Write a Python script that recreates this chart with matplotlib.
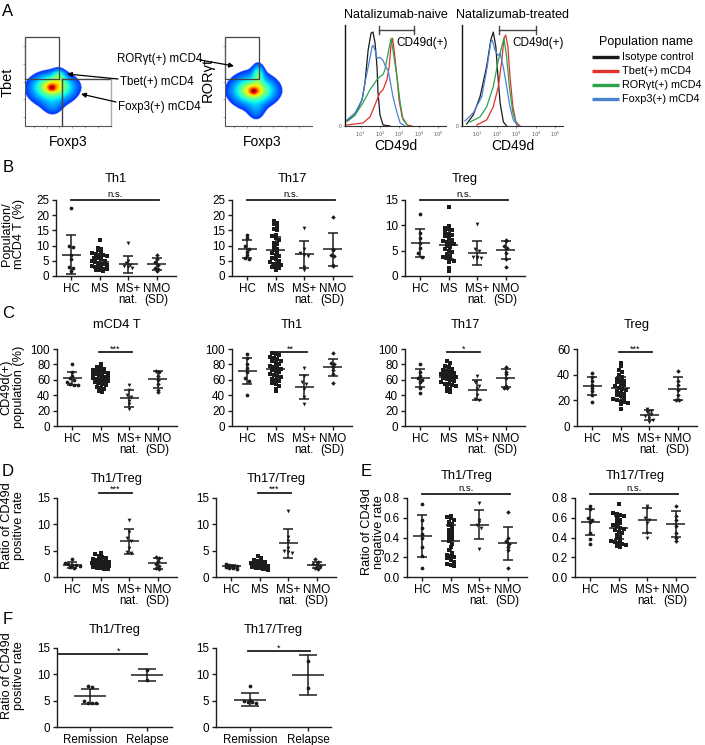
import numpy as np
import matplotlib
matplotlib.use('Agg')
import matplotlib.pyplot as plt

plt.rcParams['font.family'] = ['Liberation Sans', 'DejaVu Sans']

# ======================= DATA =======================
groups = ['HC', 'MS', 'MS+\nnat.', 'NMO\n(SD)']
f_groups = ['Remission', 'Relapse']

# ---- Panel A: CD49d histograms (x = log10 CD49d, y = % of mode) ----
naive_iso_x = [0.30, 0.72, 1.08, 1.23, 1.39, 1.54, 1.64, 1.75, 1.85, 1.90, 2.00, 2.16, 2.52]
naive_iso_y = [5, 11, 26, 43, 75, 92, 93, 82, 58, 33, 11, 1, 0]
naive_tbet_x = [0.30, 1.13, 1.49, 1.64, 1.85, 2.00, 2.16, 2.36, 2.47, 2.57, 2.65, 2.73, 2.88, 2.98, 3.14, 3.40, 3.65]
naive_tbet_y = [1, 3, 9, 16, 26, 33, 36, 46, 58, 80, 87, 75, 48, 26, 9, 1, 0]
naive_ror_x = [0.35, 0.72, 1.13, 1.49, 1.85, 2.00, 2.16, 2.26, 2.42, 2.57, 2.67, 2.88, 3.04, 3.19, 3.45]
naive_ror_y = [5, 11, 23, 36, 46, 49, 51, 56, 72, 87, 75, 48, 23, 6, 0]
naive_foxp3_x = [0.30, 0.72, 1.08, 1.23, 1.39, 1.59, 1.64, 1.75, 1.85, 2.00, 2.16, 2.26, 2.42, 2.52, 2.67, 2.88, 3.04, 3.29]
naive_foxp3_y = [6, 13, 26, 43, 58, 78, 80, 75, 67, 68, 65, 60, 55, 45, 29, 13, 3, 0]

treat_iso_x = [0.44, 0.78, 1.13, 1.47, 1.68, 1.81, 1.94, 2.04, 2.16, 2.33, 2.50]
treat_iso_y = [2, 11, 29, 59, 85, 93, 79, 52, 23, 4, 0]
treat_tbet_x = [0.96, 1.47, 1.81, 2.07, 2.25, 2.36, 2.45, 2.56, 2.67, 2.82, 2.98, 3.19]
treat_tbet_y = [1, 6, 19, 39, 65, 87, 90, 79, 49, 19, 4, 0]
treat_ror_x = [0.61, 1.13, 1.47, 1.81, 2.07, 2.25, 2.36, 2.50, 2.64, 2.82, 3.02]
treat_ror_y = [4, 9, 19, 39, 65, 79, 87, 68, 39, 13, 1]
treat_foxp3_x = [0.35, 0.78, 1.22, 1.50, 1.68, 1.76, 1.90, 2.04, 2.16, 2.33, 2.50, 2.67, 2.84, 3.10]
treat_foxp3_y = [5, 13, 29, 59, 83, 85, 75, 70, 72, 58, 39, 19, 6, 0]

legend_names = ['Isotype control', 'Tbet(+) mCD4', 'RORγt(+) mCD4', 'Foxp3(+) mCD4']

# density-plot shapes (axis units): centre u, centre v, spread u, spread v, weight
tbet_blob = [(0.31, 0.43, 0.030, 0.025, 0.55), (0.32, 0.44, 0.08, 0.05, 0.42),
             (0.34, 0.44, 0.15, 0.085, 0.25), (0.39, 0.55, 0.045, 0.05, 0.22),
             (0.30, 0.40, 0.17, 0.13, 0.12), (0.32, 0.22, 0.07, 0.07, 0.06)]
ror_blob = [(0.33, 0.39, 0.030, 0.025, 0.55), (0.33, 0.40, 0.08, 0.05, 0.42),
            (0.34, 0.40, 0.15, 0.085, 0.25), (0.38, 0.57, 0.04, 0.07, 0.24),
            (0.31, 0.40, 0.17, 0.15, 0.12), (0.36, 0.18, 0.06, 0.08, 0.07)]

# ---- Panel B ----
b_th1_hc = [22.3, 10.0, 9.5, 6.8, 5.5, 2.8, 2.5, 1.8]
b_th1_ms = [12.0, 9.2, 9.0, 8.5, 8.0, 7.5, 7.2, 7.0, 6.8, 6.5, 6.0, 5.8, 5.5, 5.0, 4.8,
            4.5, 4.2, 4.0, 3.8, 3.5, 3.3, 3.0, 2.8, 2.6, 2.4, 2.2, 2.0, 2.0, 1.8]
b_th1_nat = [11.0, 5.0, 4.2, 3.6, 3.2, 3.0, 2.6]
b_th1_nmo = [7.0, 5.6, 4.6, 3.6, 2.6, 2.2, 1.6]
b_th1_mean = [7.0, 4.6, 3.9, 4.0]
b_th1_sd = [6.5, 2.6, 2.8, 1.9]

b_th17_hc = [13.5, 12.5, 10.0, 9.0, 8.0, 7.0, 6.0, 5.5]
b_th17_ms = [18.2, 17.5, 17.0, 16.0, 15.5, 15.0, 13.5, 13.0, 12.5, 12.0, 11.0, 10.5, 10.0, 9.0, 8.5,
             8.0, 7.5, 7.0, 6.5, 6.0, 5.5, 5.0, 4.5, 4.0, 4.0, 3.5, 3.0, 3.0, 2.5, 2.0]
b_th17_nat = [15.8, 9.0, 7.5, 7.0, 6.5, 3.0, 2.0]
b_th17_nmo = [19.5, 9.0, 8.5, 7.0, 6.5, 3.5, 3.3]
b_th17_mean = [8.9, 8.4, 7.1, 8.8]
b_th17_sd = [3.0, 4.4, 4.5, 5.4]

b_treg_hc = [12.3, 8.5, 7.5, 6.5, 5.5, 4.5, 3.8]
b_treg_ms = [13.6, 9.8, 9.5, 9.3, 9.0, 8.7, 8.3, 8.0, 7.8, 7.5, 7.2, 7.0, 6.8, 6.5, 6.3,
             6.0, 5.7, 5.3, 5.0, 4.7, 4.3, 4.0, 3.7, 3.5, 3.3, 3.0, 2.8, 1.5, 1.0]
b_treg_nat = [10.2, 5.3, 5.0, 3.8, 3.7, 3.5, 3.5]
b_treg_nmo = [7.2, 7.0, 6.0, 5.5, 4.5, 3.3, 1.8]
b_treg_mean = [6.5, 6.2, 4.6, 5.1]
b_treg_sd = [2.8, 2.9, 2.35, 1.8]

# ---- Panel C ----
c_cd4_hc = [80, 70, 65, 62, 60, 57, 55, 53, 53]
c_cd4_ms = [80, 77, 75, 74, 73, 72, 71, 70, 69, 68, 67, 66, 65, 64, 63, 62, 61, 60, 59, 58,
            57, 56, 55, 53, 51, 50, 48, 46, 44]
c_cd4_nat = [53, 47, 40, 38, 33, 28, 22]
c_cd4_nmo = [72, 70, 65, 60, 55, 47, 44]
c_cd4_mean = [62, 62, 36, 60.5]
c_cd4_sd = [8.5, 8, 11, 11]

c_th1_hc = [93, 88, 80, 75, 70, 62, 58, 40]
c_th1_ms = [95, 93, 92, 90, 88, 87, 85, 84, 82, 80, 78, 77, 75, 74, 73, 72, 70, 68, 66, 65,
            63, 61, 60, 58, 56, 55, 52, 48, 46]
c_th1_nat = [75, 65, 57, 55, 48, 38, 28]
c_th1_nmo = [95, 82, 80, 77, 73, 68, 56]
c_th1_mean = [71, 73.5, 51, 76]
c_th1_sd = [17, 12.5, 15.5, 11.5]

c_th17_hc = [80, 70, 65, 62, 60, 57, 50, 43]
c_th17_ms = [84, 82, 78, 76, 74, 73, 72, 70, 69, 68, 67, 66, 65, 64, 63, 62, 61, 60, 58, 57,
             55, 54, 53, 52, 50, 48, 46, 44]
c_th17_nat = [65, 57, 52, 48, 40, 35, 34]
c_th17_nmo = [77, 70, 67, 62, 52, 50, 50]
c_th17_mean = [62, 64, 47, 62]
c_th17_sd = [11.5, 11, 13, 11.5]

c_treg_hc = [41, 38, 35, 32, 30, 27, 24, 19]
c_treg_ms = [49, 47, 44, 42, 40, 38, 37, 36, 35, 34, 33, 32, 31, 30, 29, 28, 27, 26, 25, 24,
             23, 22, 21, 20, 19, 19, 18, 17, 13]
c_treg_nat = [13, 12, 11, 9, 8, 6, 5, 3]
c_treg_nmo = [43, 35, 32, 28, 24, 20, 20]
c_treg_mean = [31.5, 29.5, 8.5, 29]
c_treg_sd = [7, 9, 4, 9]

# ---- Panel D ----
d_th1_hc = [3.4, 2.7, 2.5, 2.3, 2.2, 2.0, 1.9, 1.8]
d_th1_ms = [4.6, 4.3, 4.0, 3.8, 3.6, 3.4, 3.3, 3.2, 3.0, 2.9, 2.8, 2.8, 2.7, 2.6, 2.6, 2.5,
            2.4, 2.4, 2.3, 2.2, 2.2, 2.1, 2.0, 2.0, 1.9, 1.8, 1.7, 1.6, 1.5]
d_th1_nat = [10.8, 8.5, 7.5, 6.8, 5.5, 4.8, 4.5]
d_th1_nmo = [3.8, 3.6, 3.0, 2.5, 2.0, 1.8, 1.5]
d_th1_mean = [2.3, 2.7, 6.8, 2.6]
d_th1_sd = [0.5, 0.7, 2.4, 1.1]

d_th17_hc = [2.4, 2.2, 2.1, 2.0, 1.9, 1.8, 1.7, 1.6]
d_th17_ms = [4.0, 3.6, 3.3, 3.0, 2.9, 2.8, 2.7, 2.6, 2.5, 2.5, 2.4, 2.4, 2.3, 2.3, 2.2, 2.2,
             2.1, 2.1, 2.0, 2.0, 1.9, 1.9, 1.8, 1.8, 1.7, 1.6, 1.5, 1.4]
d_th17_nat = [12.6, 7.6, 6.8, 5.5, 5.0, 4.7, 4.5]
d_th17_nmo = [3.5, 2.8, 2.5, 2.2, 2.0, 1.8, 1.6]
d_th17_mean = [2.0, 2.3, 6.4, 2.3]
d_th17_sd = [0.3, 0.5, 2.8, 0.6]

# ---- Panel E ----
e_th1_hc = [0.74, 0.58, 0.50, 0.44, 0.40, 0.30, 0.21, 0.09]
e_th1_ms = [0.62, 0.61, 0.60, 0.58, 0.56, 0.54, 0.53, 0.50, 0.48, 0.46, 0.44, 0.42, 0.40, 0.38,
            0.36, 0.33, 0.30, 0.27, 0.24, 0.22, 0.21, 0.20, 0.19, 0.17, 0.15, 0.13, 0.12, 0.11]
e_th1_nat = [0.75, 0.58, 0.56, 0.53, 0.50, 0.28]
e_th1_nmo = [0.66, 0.40, 0.36, 0.33, 0.30, 0.27, 0.09]
e_th1_mean = [0.415, 0.365, 0.53, 0.34]
e_th1_sd = [0.215, 0.165, 0.15, 0.17]

e_th17_hc = [0.72, 0.69, 0.60, 0.58, 0.56, 0.45, 0.38, 0.33]
e_th17_ms = [0.74, 0.65, 0.64, 0.63, 0.62, 0.60, 0.58, 0.56, 0.55, 0.53, 0.52, 0.50, 0.49, 0.48,
             0.46, 0.45, 0.43, 0.41, 0.39, 0.37, 0.36, 0.35, 0.34, 0.33, 0.32, 0.31, 0.30]
e_th17_nat = [0.72, 0.70, 0.60, 0.58, 0.55, 0.45, 0.40]
e_th17_nmo = [0.72, 0.62, 0.58, 0.52, 0.45, 0.40, 0.36]
e_th17_mean = [0.56, 0.50, 0.575, 0.54]
e_th17_sd = [0.13, 0.12, 0.125, 0.13]

# ---- Panel F ----
f_th1_rem = [7.7, 7.6, 5.0, 4.6, 4.5, 4.5]
f_th1_rel = [10.8, 9.0]
f_th1_mean = [5.8, 9.9]
f_th1_sd = [1.45, 1.15]

f_th17_rem = [7.7, 5.2, 5.0, 4.8, 4.7, 4.5]
f_th17_rel = [12.6, 7.4]
f_th17_mean = [5.2, 9.9]
f_th17_sd = [1.25, 3.75]

# ======================= FIGURE =======================
W, H = 705, 745
fig = plt.figure(figsize=(W / 100, H / 100), dpi=100)
INK = '#1c1c1c'

ov = fig.add_axes([0, 0, 1, 1])
ov.set_xlim(0, W)
ov.set_ylim(H, 0)
ov.axis('off')
ov.set_zorder(10)
ov.patch.set_visible(False)


def ax_px(x0, y0, x1, y1):
    return fig.add_axes([x0 / W, 1 - y1 / H, (x1 - x0) / W, (y1 - y0) / H])


# ---------------- Panel A ----------------
def blob(U, V, comps):
    Z = np.zeros_like(U)
    for cu, cv, su, sv, a in comps:
        Z += a * np.exp(-((U - cu) ** 2 / (2 * su ** 2) + (V - cv) ** 2 / (2 * sv ** 2)))
    return Z


def density_panel(box, comps, gates, light_edges):
    ax = ax_px(*box)
    g = np.linspace(0, 1, 260)
    U, V = np.meshgrid(g, g)
    Z = blob(U, V, comps)
    c = Z / Z.max()
    val = 0.03 + 0.97 * np.clip(c, 0, 1) ** 0.55
    img = plt.cm.jet(val)
    img[..., 3] = np.where(c > 0.03, 1.0, 0.0)
    ax.imshow(img, extent=[0, 1, 0, 1], origin='lower', aspect='auto', interpolation='bilinear')
    ax.set_xlim(0, 1)
    ax.set_ylim(0, 1)
    for (ga, gb, gc, gd) in gates:
        ax.plot([ga, gb, gb, ga, ga], [gc, gc, gd, gd, gc], color='#444', lw=0.9, clip_on=False)
    for seg in light_edges:
        ax.plot(seg[0], seg[1], color=seg[2], lw=1.0, clip_on=False)
    for s in ['top', 'right']:
        ax.spines[s].set_visible(False)
    for s in ['left', 'bottom']:
        ax.spines[s].set_color('#555')
        ax.spines[s].set_linewidth(0.8)
    ax.set_xticks([0.1, 0.25, 0.4, 0.55, 0.7, 0.85])
    ax.set_yticks([0.1, 0.3, 0.5, 0.7, 0.9])
    ax.tick_params(length=1.5, width=0.6, color='#999', labelbottom=False, labelleft=False)
    return ax


density_panel((25, 37, 111, 126), tbet_blob,
              [(0, 0.395, 0.528, 1.0)],
              [([0.43, 0.43], [0, 0.528], '#444'), ([0.43, 1.0], [0.528, 0.528], '#444'),
               ([1.0, 1.0], [0, 0.528], '#aaa')])
density_panel((225, 37, 312, 126), ror_blob, [(0, 0.39, 0.528, 1.0)], [])

ov.text(8, 12, 'A', fontsize=12, ha='center', va='center')
ov.text(8, 82, 'Tbet', fontsize=10.5, rotation=90, ha='center', va='center')
ov.text(68, 142, 'Foxp3', fontsize=10, ha='center', va='center')
ov.text(208, 80, 'RORγt', fontsize=10.5, rotation=90, ha='center', va='center')
ov.text(262, 142, 'Foxp3', fontsize=10, ha='center', va='center')

ov.text(117, 59, 'RORγt(+) mCD4', fontsize=8.3, ha='left', va='center')
ov.text(120, 82, 'Tbet(+) mCD4', fontsize=8.3, ha='left', va='center')
ov.text(118, 107, 'Foxp3(+) mCD4', fontsize=8.3, ha='left', va='center')
arrow_kw = dict(arrowstyle='-|>', lw=0.9, color='k', mutation_scale=7, shrinkA=0, shrinkB=0)
ov.annotate('', xy=(234, 66), xytext=(200, 60), arrowprops=arrow_kw)
ov.annotate('', xy=(67, 74), xytext=(118, 79), arrowprops=arrow_kw)
ov.annotate('', xy=(81, 94), xytext=(116, 102), arrowprops=arrow_kw)

hist_cols = ['#1a1a1a', '#e0312b', '#2ea24b', '#4a82d2']


def hist_panel(box, title, curves):
    ax = ax_px(*box)
    for (xs, ys), col in zip(curves, hist_cols):
        ax.plot(xs, ys, color=col, lw=0.9)
    ax.set_xlim(0.2, 5.4)
    ax.set_ylim(0, 100)
    for s in ['top', 'right']:
        ax.spines[s].set_visible(False)
    ax.spines['left'].set_color('#111')
    ax.spines['left'].set_linewidth(1.0)
    ax.spines['bottom'].set_color('#333')
    ax.spines['bottom'].set_linewidth(0.8)
    ax.set_xticks([1, 2, 3, 4, 5])
    ax.set_xticklabels([r'$10^{%d}$' % k for k in range(1, 6)])
    ax.set_yticks([0])
    ax.set_yticklabels(['0'])
    ax.tick_params(length=1.5, width=0.5, color='#666', labelsize=3.5, labelcolor='#555', pad=1)
    x0, y0, x1, y1 = box
    ov.text((x0 + x1) / 2, 15, title, fontsize=9, ha='center', va='center')
    ov.text((x0 + x1) / 2, 146, 'CD49d', fontsize=10, ha='center', va='center')
    return ax


hist_panel((345, 25, 446, 126), 'Natalizumab-naive',
           [(naive_iso_x, naive_iso_y), (naive_tbet_x, naive_tbet_y),
            (naive_ror_x, naive_ror_y), (naive_foxp3_x, naive_foxp3_y)])
hist_panel((462, 25, 563, 126), 'Natalizumab-treated',
           [(treat_iso_x, treat_iso_y), (treat_tbet_x, treat_tbet_y),
            (treat_ror_x, treat_ror_y), (treat_foxp3_x, treat_foxp3_y)])


def bracket(xa, xb, y, label, tx):
    ov.plot([xa, xb], [y, y], color='#444', lw=1.0)
    ov.plot([xa, xa], [y - 4, y + 4], color='#444', lw=1.0)
    ov.plot([xb, xb], [y - 4, y + 4], color='#444', lw=1.0)
    ov.text(tx, 43, label, fontsize=8.5, ha='center', va='center')


bracket(379, 414, 30, 'CD49d(+)', 422)
bracket(499, 536, 30, 'CD49d(+)', 538)

ov.text(646, 42, 'Population name', fontsize=9, ha='center', va='center')
for k, (name, col) in enumerate(zip(legend_names, hist_cols)):
    yy = 57 + 14 * k
    ov.plot([592, 619], [yy, yy], color=col, lw=2.4, solid_capstyle='butt')
    ov.text(622, yy, name, fontsize=7.8, ha='left', va='center')


# ---------------- Dot-plot panels ----------------
def swarm(vals, bin_h, step):
    v = np.asarray(vals, float)
    off = np.zeros(len(v))
    bins = np.round(v / bin_h).astype(int)
    for b in np.unique(bins):
        idx = np.where(bins == b)[0]
        n = len(idx)
        st = step if n <= 5 else step * 5 / n
        off[idx] = (np.arange(n) - (n - 1) / 2.0) * st
    return off


MARKS = ['o', 's', 'v', 'D']


def dot_panel(box, title, title_y, data, means, sds, ymax, yticks, labels,
              sig_text, sig_x, sig_y, xlim=(-0.53, 3.68), ytfmt='%g',
              mean_hw=0.33, cap=3.6, step=0.13, star_x=None, marks=MARKS):
    x0, y0, x1, y1 = box
    ax = ax_px(x0, y0, x1, y1)
    ax.set_xlim(*xlim)
    ax.set_ylim(0, ymax)
    bin_h = ymax / (y1 - y0) * 4.2
    for i, vals in enumerate(data):
        off = swarm(vals, bin_h, step)
        ms = 2.3 if marks[i] == 'D' else 2.7
        ax.plot(i + off, vals, ls='none', marker=marks[i], ms=ms, color=INK,
                mew=0, clip_on=False, zorder=3)
        ax.plot([i - mean_hw, i + mean_hw], [means[i]] * 2, color=INK, lw=1.1,
                zorder=4, solid_capstyle='butt')
        ax.errorbar([i], [means[i]], yerr=[sds[i]], fmt='none', ecolor=INK,
                    elinewidth=1.1, capsize=cap, capthick=1.1, zorder=4)
    for s in ['top', 'right']:
        ax.spines[s].set_visible(False)
    for s in ['left', 'bottom']:
        ax.spines[s].set_color(INK)
        ax.spines[s].set_linewidth(1.0)
    ax.set_yticks(yticks)
    ax.set_yticklabels([ytfmt % t for t in yticks])
    ax.set_xticks(range(len(labels)))
    ax.set_xticklabels(labels, linespacing=0.95)
    ax.tick_params(direction='out', length=3, width=1, color=INK, labelsize=8.4, pad=2)
    ov.text((x0 + x1) / 2, title_y, title, fontsize=9.3, ha='center', va='center')
    ax.plot(sig_x, [sig_y, sig_y], color=INK, lw=1.3, clip_on=False)
    sx = (sig_x[0] + sig_x[1]) / 2 if star_x is None else star_x
    if sig_text == 'n.s.':
        ax.annotate(sig_text, xy=(sx, sig_y), xytext=(0, 0.6), textcoords='offset points',
                    ha='center', va='bottom', fontsize=6.8, annotation_clip=False)
    else:
        ax.annotate(sig_text, xy=(sx, sig_y), xytext=(0, 0.6), textcoords='offset points',
                    ha='center', va='baseline', fontsize=6.5, annotation_clip=False)
    return ax


def ylab(x, y, text):
    ov.text(x, y, text, fontsize=9.2, rotation=90, ha='center', va='center',
            multialignment='center', linespacing=1.1)


# ---- B ----
ov.text(8, 167, 'B', fontsize=12, ha='center', va='center')
ylab(13, 234, 'Population/\nmCD4 T (%)')
NS = (0, 3.1)
dot_panel((56, 200, 176, 276), 'Th1', 179, [b_th1_hc, b_th1_ms, b_th1_nat, b_th1_nmo],
          b_th1_mean, b_th1_sd, 25, [0, 5, 10, 15, 20, 25], groups, 'n.s.', NS, 25)
dot_panel((232, 200, 352, 276), 'Th17', 179, [b_th17_hc, b_th17_ms, b_th17_nat, b_th17_nmo],
          b_th17_mean, b_th17_sd, 25, [0, 5, 10, 15, 20, 25], groups, 'n.s.', NS, 25)
dot_panel((405, 200, 525, 276), 'Treg', 179, [b_treg_hc, b_treg_ms, b_treg_nat, b_treg_nmo],
          b_treg_mean, b_treg_sd, 15, [0, 5, 10, 15], groups, 'n.s.', NS, 15)

# ---- C ----
ov.text(8, 313, 'C', fontsize=12, ha='center', va='center')
ylab(13, 387, 'CD49d(+)\npopulation (%)')
MN = (0.95, 2.1)
dot_panel((57, 349, 177, 426), 'mCD4 T', 325, [c_cd4_hc, c_cd4_ms, c_cd4_nat, c_cd4_nmo],
          c_cd4_mean, c_cd4_sd, 100, [0, 20, 40, 60, 80, 100], groups, '***', MN, 96)
dot_panel((232, 349, 352, 426), 'Th1', 325, [c_th1_hc, c_th1_ms, c_th1_nat, c_th1_nmo],
          c_th1_mean, c_th1_sd, 100, [0, 20, 40, 60, 80, 100], groups, '**', MN, 96)
dot_panel((405, 349, 525, 426), 'Th17', 325, [c_th17_hc, c_th17_ms, c_th17_nat, c_th17_nmo],
          c_th17_mean, c_th17_sd, 100, [0, 20, 40, 60, 80, 100], groups, '*', MN, 96)
dot_panel((577, 349, 697, 426), 'Treg', 325, [c_treg_hc, c_treg_ms, c_treg_nat, c_treg_nmo],
          c_treg_mean, c_treg_sd, 60, [0, 20, 40, 60], groups, '***', MN, 57.5)

# ---- D ----
ov.text(8, 472, 'D', fontsize=12, ha='center', va='center')
ylab(13, 526, 'Ratio of CD49d\npositive rate')
dot_panel((57, 498, 177, 577), 'Th1/Treg', 479, [d_th1_hc, d_th1_ms, d_th1_nat, d_th1_nmo],
          d_th1_mean, d_th1_sd, 15, [0, 5, 10, 15], groups, '***', MN, 16.0)
dot_panel((216, 498, 336, 577), 'Th17/Treg', 479, [d_th17_hc, d_th17_ms, d_th17_nat, d_th17_nmo],
          d_th17_mean, d_th17_sd, 15, [0, 5, 10, 15], groups, '***', MN, 16.0)

# ---- E ----
ov.text(366, 472, 'E', fontsize=12, ha='center', va='center')
ylab(373, 532, 'Ratio of CD49d\nnegative rate')
ET = [0, 0.2, 0.4, 0.6, 0.8]
dot_panel((407, 498, 527, 577), 'Th1/Treg', 476, [e_th1_hc, e_th1_ms, e_th1_nat, e_th1_nmo],
          e_th1_mean, e_th1_sd, 0.8, ET, groups, 'n.s.', NS, 0.84, ytfmt='%.1f')
dot_panel((575, 498, 695, 577), 'Th17/Treg', 476, [e_th17_hc, e_th17_ms, e_th17_nat, e_th17_nmo],
          e_th17_mean, e_th17_sd, 0.8, ET, groups, 'n.s.', NS, 0.84, ytfmt='%.1f')

# ---- F ----
ov.text(8, 620, 'F', fontsize=12, ha='center', va='center')
ylab(13, 676, 'Ratio of CD49d\npositive rate')
dot_panel((57, 648, 172, 727), 'Th1/Treg', 630, [f_th1_rem, f_th1_rel], f_th1_mean, f_th1_sd,
          15, [0, 5, 10, 15], f_groups, '*', (-0.55, 1.0), 13.8, xlim=(-0.58, 1.44),
          mean_hw=0.28, cap=6.5, step=0.07, star_x=0.5, marks=['o', 'o'])
dot_panel((216, 648, 331, 727), 'Th17/Treg', 630, [f_th17_rem, f_th17_rel], f_th17_mean, f_th17_sd,
          15, [0, 5, 10, 15], f_groups, '*', (-0.03, 1.03), 14.4, xlim=(-0.59, 1.4),
          mean_hw=0.28, cap=6.5, step=0.07, star_x=0.5, marks=['o', 'o'])

fig.savefig('out.png', dpi=100)
